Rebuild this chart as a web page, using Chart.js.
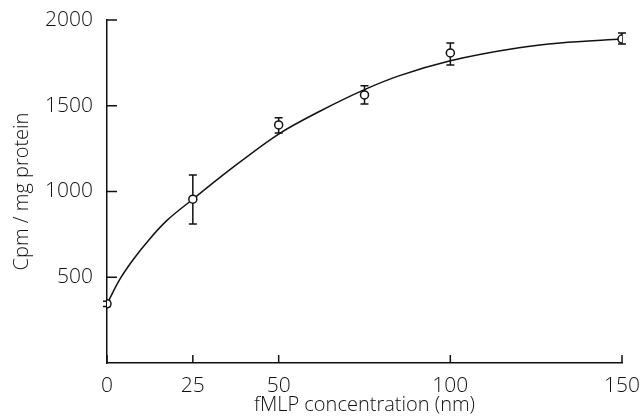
<!DOCTYPE html>
<html>
<head>
<meta charset="utf-8">
<script src="https://cdn.jsdelivr.net/npm/chart.js@4/dist/chart.umd.min.js"></script>
<style>
  html, body { margin: 0; padding: 0; background: #fff; }
  #wrap { width: 643px; height: 417px; }
</style>
</head>
<body>
<div id="wrap"><canvas id="fmlpChart"></canvas></div>
<script>
// fMLP dose response
const doseX = [0, 25, 50, 75, 100, 150];
const meanCpm = [345, 955, 1388, 1563, 1808, 1889];
const errHigh = [360, 1096, 1430, 1617, 1866, 1924];
const errLow = [330, 810, 1341, 1510, 1738, 1860];

// fitted curve
const fitX = [0, 3.8, 7.7, 12.5, 17.4, 25, 36, 50, 62, 75, 85, 100, 120, 132, 150];
const fitY = [345, 490, 605, 725, 830, 955, 1130, 1335, 1468, 1594, 1674, 1762, 1838, 1866, 1889];

const xTicks = [0, 25, 50, 100, 150];
const yTicks = [500, 1000, 1500, 2000];

const ink = '#111';
const fontFamily = "'Open Sans', 'DejaVu Sans', sans-serif";

// error bars under the circles
const errorBars = {
  id: 'errorBars',
  beforeDatasetsDraw(chart) {
    const ctx = chart.ctx;
    const xs = chart.scales.x, ys = chart.scales.y;
    ctx.save();
    ctx.strokeStyle = ink;
    ctx.lineWidth = 1.5;
    doseX.forEach((d, i) => {
      const px = xs.getPixelForValue(d);
      const top = ys.getPixelForValue(errHigh[i]);
      const bot = ys.getPixelForValue(errLow[i]);
      ctx.beginPath();
      ctx.moveTo(px, top); ctx.lineTo(px, bot);
      ctx.moveTo(px - 4, top); ctx.lineTo(px + 4, top);
      ctx.moveTo(px - 4, bot); ctx.lineTo(px + 4, bot);
      ctx.stroke();
    });
    ctx.restore();
  }
};

// tick marks pointing into the plot
const innerTicks = {
  id: 'innerTicks',
  afterDraw(chart) {
    const ctx = chart.ctx;
    const xs = chart.scales.x, ys = chart.scales.y;
    const area = chart.chartArea;
    ctx.save();
    ctx.strokeStyle = ink;
    ctx.lineWidth = 1.5;
    ctx.beginPath();
    xTicks.forEach(v => {
      const px = xs.getPixelForValue(v);
      ctx.moveTo(px, area.bottom); ctx.lineTo(px, area.bottom - 8);
    });
    yTicks.forEach(v => {
      const py = ys.getPixelForValue(v);
      ctx.moveTo(area.left, py); ctx.lineTo(area.left + 10, py);
    });
    ctx.stroke();
    ctx.restore();
  }
};

new Chart(document.getElementById('fmlpChart'), {
  type: 'scatter',
  data: {
    datasets: [{
      label: 'mean',
      data: doseX.map((x, i) => ({ x: x, y: meanCpm[i] })),
      showLine: false,
      pointRadius: 4,
      pointBackgroundColor: '#fff',
      pointBorderColor: ink,
      pointBorderWidth: 1.5,
      order: 0
    }, {
      label: 'fit',
      data: fitX.map((x, i) => ({ x: x, y: fitY[i] })),
      showLine: true,
      cubicInterpolationMode: 'monotone',
      borderColor: ink,
      borderWidth: 1.5,
      pointRadius: 0,
      fill: false,
      order: 1
    }]
  },
  options: {
    responsive: true,
    maintainAspectRatio: false,
    animation: false,
    layout: { padding: { left: 0, top: 20, right: 21, bottom: 0 } },
    plugins: {
      legend: { display: false },
      tooltip: { enabled: false }
    },
    scales: {
      x: {
        type: 'linear',
        min: 0,
        max: 150,
        afterBuildTicks: s => { s.ticks = xTicks.map(v => ({ value: v })); },
        afterFit: s => { s.height = 54; },
        grid: { display: false },
        border: { display: true, color: ink, width: 1.5 },
        ticks: {
          color: ink, padding: 2,
          callback: v => String(v),
          font: { family: fontFamily, size: 21, weight: 300 }
        },
        title: {
          display: true,
          text: 'fMLP concentration (nm)',
          color: ink,
          padding: { top: 0, bottom: 0 },
          font: { family: fontFamily, size: 20, weight: 300 }
        }
      },
      y: {
        type: 'linear',
        min: 0,
        max: 2000,
        afterBuildTicks: s => { s.ticks = yTicks.map(v => ({ value: v })); },
        afterFit: s => { s.width = 107; },
        grid: { display: false },
        border: { display: true, color: ink, width: 1.5 },
        ticks: {
          color: ink, padding: 6,
          callback: v => String(v),
          font: { family: fontFamily, size: 21, weight: 300 }
        },
        title: {
          display: true,
          text: 'Cpm / mg protein',
          color: ink,
          padding: { top: 10, bottom: 0 },
          font: { family: fontFamily, size: 20, weight: 300 }
        }
      }
    }
  },
  plugins: [errorBars, innerTicks]
});
</script>
</body>
</html>
